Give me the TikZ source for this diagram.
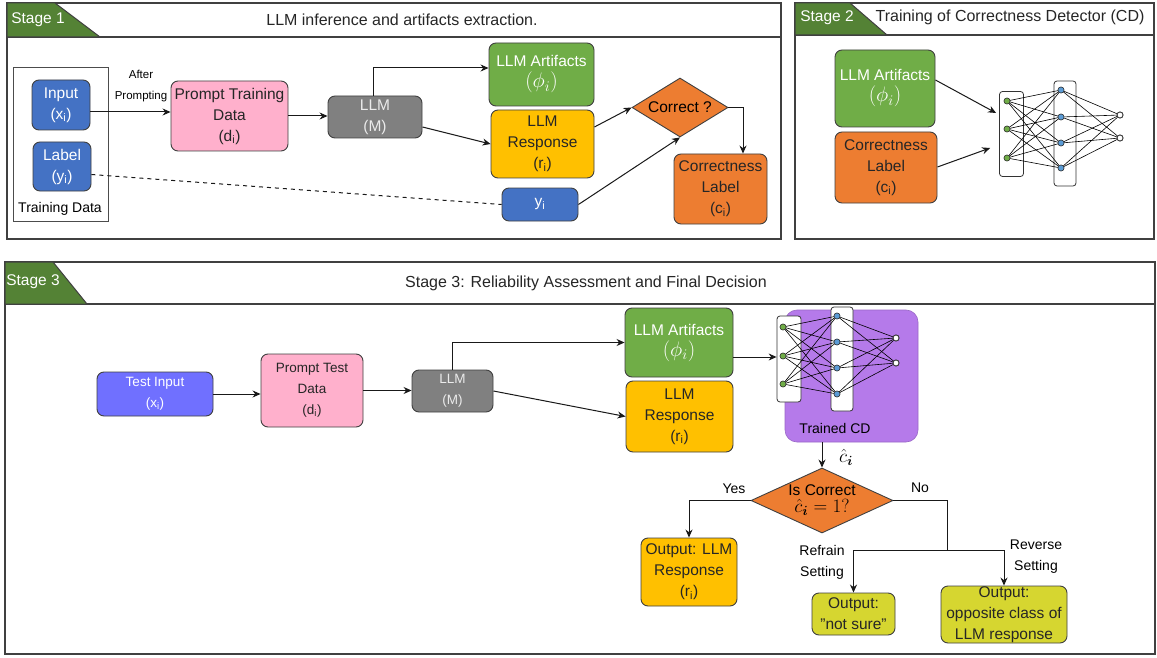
\RequirePackage{fix-cm}
\documentclass[tikz,border=0pt]{standalone}
\usepackage{amsmath,bm}
\usepackage{fontspec}
\setmainfont{Liberation Sans}
\usetikzlibrary{arrows.meta,shapes.geometric,calc}
\newcommand\fz[1]{\fontsize{#1}{21}\selectfont}
\newcommand\phimath{{\fontsize{21}{21}\selectfont$(\phi_i)$}}
\definecolor{hdr}{RGB}{84,130,53}
\definecolor{cblue}{RGB}{68,114,196}
\definecolor{cviolet}{RGB}{112,112,255}
\definecolor{cpink}{RGB}{255,176,204}
\definecolor{cgray}{RGB}{128,128,128}
\definecolor{cgreen}{RGB}{112,173,71}
\definecolor{cyellow}{RGB}{255,192,0}
\definecolor{corange}{RGB}{237,125,49}
\definecolor{cpurple}{RGB}{181,122,234}
\definecolor{colive}{RGB}{214,214,48}
\definecolor{nnblue}{RGB}{91,155,213}
\tikzset{
  frame/.style={draw=black!75, line width=1.2pt},
  tab/.style={fill=hdr, draw=black!75, line width=1pt},
  tabtext/.style={text=white, font=\fz{15.5}},
  title/.style={text=black!85, font=\fz{16}},
  box/.style={draw=black!75, line width=0.9pt, rounded corners=7pt, align=center, inner sep=0pt, font=\fz{15.5}},
  small/.style={box, font=\fz{13.5}},
  dia/.style={diamond, draw=black!75, line width=0.9pt, fill=corange, align=center, inner sep=0pt, font=\fz{15.5}},
  lbl/.style={align=center, inner sep=0pt, font=\fz{14}},
  arr/.style={-{Stealth[length=8pt,width=7pt]}, line width=1pt, draw=black!90},
  ln/.style={line width=1pt, draw=black!90},
  col/.style={draw=black!80, fill=white, line width=0.8pt, rounded corners=3pt, inner sep=0pt},
  dotg/.style={circle, fill=cgreen, draw=black!80, line width=0.5pt, minimum size=6pt, inner sep=0pt},
  dotb/.style={circle, fill=nnblue, draw=black!80, line width=0.5pt, minimum size=6pt, inner sep=0pt},
  dotw/.style={circle, fill=white, draw=black!80, line width=0.8pt, minimum size=6pt, inner sep=0pt},
  nn/.style={line width=0.6pt, draw=black}
}
\begin{document}
\begin{tikzpicture}[x=1pt,y=-1pt]
\useasboundingbox (0,0) rectangle (1157,658);
\fill[white] (0,0) rectangle (1157,658);

% ---------------- Stage 1 frame
\draw[frame] (7,3) rectangle (781,239);
\draw[frame] (7,37) -- (781,37);
\filldraw[tab] (7,3) -- (55,3) -- (100,37) -- (7,37) -- cycle;
\node[tabtext] (s1tab) at (38,20) {Stage 1};
\node[title] (s1title) at (402,20) {LLM inference and artifacts extraction.};

% ---------------- Stage 2 frame
\draw[frame] (795,3) rectangle (1154,239);
\draw[frame] (795,35) -- (1154,35);
\filldraw[tab] (795,3) -- (850,3) -- (887,35) -- (795,35) -- cycle;
\node[tabtext] (s2tab) at (827,18) {Stage 2};
\node[title] (s2title) at (1010,17) {Training of Correctness Detector (CD)};

% ---------------- Stage 3 frame
\draw[frame] (5,262) rectangle (1155,654);
\draw[frame] (5,304) -- (1155,304);
\filldraw[tab] (5,262) -- (53,262) -- (87,304) -- (5,304) -- cycle;
\node[tabtext] (s3tab) at (33,282) {Stage 3};
\node[title] (s3title) at (586,283) {Stage 3: Reliability Assessment and Final Decision};

% ---------------- Stage 1 content
\node[draw=black!70, line width=0.9pt, minimum width=95pt, minimum height=154pt, inner sep=0pt] (td) at (60.5,144) {};
\node[lbl] (tdl) at (60,209) {Training Data};
\node[box, fill=cblue, text=white, minimum width=58pt, minimum height=50pt] (in1) at (61,105) {Input\\(x\textsubscript{i})};
\node[box, fill=cblue, text=white, minimum width=58pt, minimum height=49pt] (lab1) at (62,166.5) {Label\\(y\textsubscript{i})};
\node[box, fill=cpink, text=black!85, minimum width=117pt, minimum height=70pt] (pr1) at (229.5,116) {Prompt Training\\Data\\(d\textsubscript{i})};
\node[box, fill=cgray, text=black!8, minimum width=94pt, minimum height=42pt] (llm1) at (375,117) {LLM\\(M)};
\node[box, fill=cgreen, text=white, minimum width=105pt, minimum height=63pt] (art1) at (541.5,74.5) {LLM Artifacts\\\phimath};
\node[box, fill=cyellow, text=black!85, minimum width=103pt, minimum height=68pt] (resp1) at (542.5,144) {LLM\\Response\\(r\textsubscript{i})};
\node[box, fill=cblue, text=white, minimum width=76pt, minimum height=33pt] (yi1) at (540,204.5) {y\textsubscript{i}};
\node[dia, aspect=1.63, minimum width=96pt, minimum height=59pt] (dia1) at (680,107.5) {Correct ?};
\node[box, fill=corange, text=black!85, minimum width=93pt, minimum height=70pt] (cl1) at (720.5,189) {Correctness\\Label\\(c\textsubscript{i})};
\node[lbl, font=\fz{11.5}] (after) at (141,86) {After\\Prompting};

\draw[arr] ([yshift=-7pt]in1.east) -- ([yshift=-7pt]in1.east -| pr1.west);
\draw[arr] (pr1.east) -- (pr1.east -| llm1.west);
\draw[arr] ([xshift=-2pt]llm1.north) |- ([yshift=6.5pt]art1.west);
\draw[arr] ([yshift=-10pt]llm1.east) -- (resp1.west);
\draw[ln, dashed, dash pattern=on 4pt off 4pt] ([yshift=-8pt]lab1.east) -- (yi1.west);
\draw[arr] ([yshift=17pt]resp1.east) -- (dia1.west);
\draw[arr] (yi1.east) -- (dia1.south);
\draw[arr] (dia1.east) -| ([xshift=22.5pt]cl1.north);

% ---------------- Stage 2 content
\node[box, fill=cgreen, text=white, minimum width=100pt, minimum height=77pt] (art2) at (885,88.5) {LLM Artifacts\\\phimath};
\node[box, fill=corange, text=black!85, minimum width=102pt, minimum height=71pt] (cl2) at (886,167.5) {Correctness\\Label\\(c\textsubscript{i})};
\node[col, minimum width=24pt, minimum height=85pt] (n2c1) at (1011.5,134) {};
\node[col, minimum width=22pt, minimum height=105pt] (n2c2) at (1065,133.5) {};
\foreach \i/\y in {1/101,2/129,3/158} \node[dotg] (ta\i) at (1007,\y) {};
\foreach \i/\y in {1/90,2/117,3/143,4/168} \node[dotb] (tb\i) at (1061,\y) {};
\foreach \i/\y in {1/115,2/138} \node[dotw] (tc\i) at (1120,\y) {};
\foreach \i in {1,2,3} \foreach \j in {1,2,3,4} \draw[nn] (ta\i) -- (tb\j);
\foreach \j in {1,2,3,4} \foreach \k in {1,2} \draw[nn] (tb\j) -- (tc\k);
\foreach \i in {1,2,3} \node[dotg] at (ta\i) {};
\foreach \i in {1,2,3,4} \node[dotb] at (tb\i) {};
\foreach \i in {1,2} \node[dotw] at (tc\i) {};
\draw[arr] ([yshift=8.5pt]art2.east) -- ([xshift=-3pt,yshift=21pt]n2c1.west);
\draw[arr] ([yshift=0.5pt]cl2.east) -- ([xshift=-9pt,yshift=-14pt]n2c1.west);

% ---------------- Stage 3 content
\node[small, fill=cviolet, text=white, minimum width=116pt, minimum height=44pt] (test) at (155,394) {Test Input\\(x\textsubscript{i})};
\node[small, fill=cpink, text=black!85, minimum width=102pt, minimum height=73pt] (pr3) at (312,390.5) {Prompt Test\\Data\\(d\textsubscript{i})};
\node[small, fill=cgray, text=black!8, minimum width=81pt, minimum height=42pt] (llm3) at (452.5,391) {LLM\\(M)};
\node[box, fill=cgreen, text=white, minimum width=108pt, minimum height=69pt] (art3) at (679,342.5) {LLM Artifacts\\\phimath};
\node[box, fill=cyellow, text=black!85, minimum width=107pt, minimum height=71pt] (resp3) at (679.5,416.5) {LLM\\Response\\(r\textsubscript{i})};
\node[draw=cpurple!85!black, fill=cpurple, line width=0.6pt, rounded corners=12pt, minimum width=133pt, minimum height=132pt, inner sep=0pt] (cd) at (851.5,376) {};
\node[lbl] (cdl) at (835,428) {Trained CD};
\node[col, minimum width=24pt, minimum height=86pt] (n3c1) at (789,359) {};
\node[col, minimum width=22pt, minimum height=104pt] (n3c2) at (842,359) {};
\foreach \i/\y in {1/327,2/356,3/384} \node[dotg] (ua\i) at (783,\y) {};
\foreach \i/\y in {1/316,2/342,3/368,4/394} \node[dotb] (ub\i) at (837,\y) {};
\foreach \i/\y in {1/338,2/363} \node[dotw] (uc\i) at (896,\y) {};
\foreach \i in {1,2,3} \foreach \j in {1,2,3,4} \draw[nn] (ua\i) -- (ub\j);
\foreach \j in {1,2,3,4} \foreach \k in {1,2} \draw[nn] (ub\j) -- (uc\k);
\foreach \i in {1,2,3} \node[dotg] at (ua\i) {};
\foreach \i in {1,2,3,4} \node[dotb] at (ub\i) {};
\foreach \i in {1,2} \node[dotw] at (uc\i) {};

\node[dia, aspect=2.18, minimum width=142pt, minimum height=65pt] (dia3) at (822,500.5) {Is Correct\\[-4pt]{\fontsize{19}{19}\selectfont$\hat{c}_{\bm{i}}=1?$}};
\node[box, fill=cyellow, text=black!85, minimum width=96pt, minimum height=68pt] (out1) at (689,572) {Output: LLM\\Response\\(r\textsubscript{i})};
\node[box, fill=colive, text=black!85, minimum width=83pt, minimum height=42pt] (nsure) at (853.5,614) {Output:\\"not sure"};
\node[box, fill=colive, text=black!85, minimum width=126pt, minimum height=57pt] (opp) at (1004,614.5) {Output:\\opposite class of\\LLM response};
\coordinate (nojunc) at (947,550);

\draw[arr] (test.east) -- (test.east -| pr3.west);
\draw[arr] (pr3.east) -- (pr3.east -| llm3.west);
\draw[arr] (llm3.north) |- (art3.west);
\draw[arr] (llm3.east) -- (resp3.west);
\draw[arr] ([yshift=-14.5pt]art3.east) -- ([yshift=-14.5pt]art3.east -| n3c1.west);
\draw[arr] (cd.south -| dia3.north) -- (dia3.north);
\node[inner sep=0pt, font=\fz{19}] (chat) at (846,457) {$\hat{c}_{\bm{i}}$};
\draw[arr] (dia3.west) -| (out1.north);
\draw[ln] (dia3.east) -| (nojunc);
\draw[arr] (nojunc) -| (nsure.north);
\draw[arr] (nojunc) -| (opp.north);
\node[lbl] (yes) at (734,489) {Yes};
\node[lbl] (no) at (920,488) {No};
\node[lbl] (refr) at (822,562.5) {Refrain\\Setting};
\node[lbl] (rev) at (1036,556.5) {Reverse\\Setting};
\end{tikzpicture}
\end{document}
